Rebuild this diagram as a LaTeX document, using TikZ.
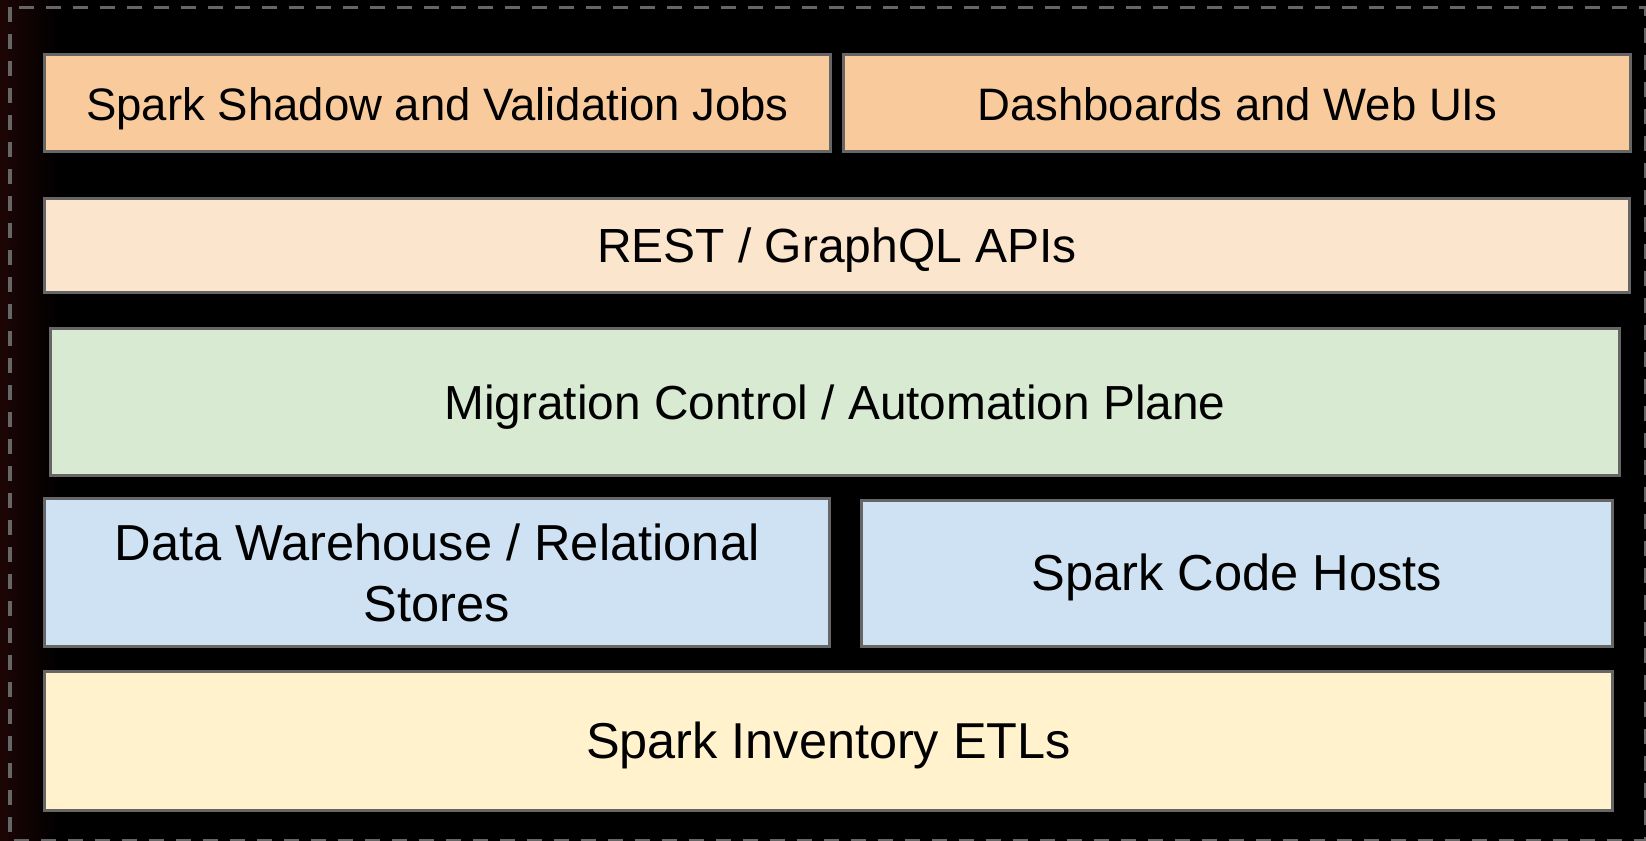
\documentclass[tikz,border=0pt]{standalone}
\usepackage{fontspec}
\setmainfont{Liberation Sans}
\usetikzlibrary{positioning}
\definecolor{frame}{HTML}{666666}
\definecolor{haze}{HTML}{1E0505}
\newcommand{\layerfont}[1]{\fontsize{#1}{34.7}\selectfont}
\begin{document}
\begin{tikzpicture}[x=0.02cm,y=-0.02cm,node distance=2.5cm,auto]
	\tikzstyle{rect} = [rectangle,line width=1.7pt,draw=frame,inner sep=2pt,
	font=\layerfont{27.9},align=center,text=black,text height=19.5pt,text depth=0pt]
	\tikzstyle{rect1} = [rect,fill={rgb,255:red,249;green,203;blue,156},minimum width=15.72cm,minimum height=1.94cm,font=\layerfont{25.9}]
	\tikzstyle{rect2} = [rect,fill={rgb,255:red,252;green,229;blue,205}]
	\tikzstyle{rect3} = [rect,fill={rgb,255:red,217;green,234;blue,211}]
	\tikzstyle{rect4} = [rect,fill={rgb,255:red,207;green,226;blue,243},font=\layerfont{28.8}]
	\tikzstyle{rect5} = [rect,fill={rgb,255:red,255;green,242;blue,204},font=\layerfont{28.7}]
	% black page, reddish on the left edge
	\fill[black] (0,0) rectangle (1646,841);
	\shade[left color=haze,right color=black,shading angle=90] (0,0) rectangle (60,841);
	\useasboundingbox (0,0) rectangle (1646,841);
	\draw[frame,line width=2.2pt,dash pattern=on 0.30cm off 0.24cm]
		(10,7.5) rectangle (1645.5,840.5);
	% layers, top to bottom
	\node (node1) [rect1] at (437.5,103) {Spark Shadow and Validation Jobs};
	\node (node2) [rect1, right of=node1,node distance=16cm,minimum width=15.74cm] {Dashboards and Web UIs};
	\node (node3) [rect2,minimum width=31.70cm,minimum height=1.88cm,font=\layerfont{27.3}] at (837,245.5) {REST / GraphQL APIs};
	\node (node4) [rect3,minimum width=31.38cm,minimum height=2.94cm,font=\layerfont{27.2}] at (835,402) {Migration Control / Automation Plane};
	\node (node5) [rect4,minimum width=15.70cm,minimum height=2.96cm,text height=,text depth=] at (437,572.5) {Data Warehouse / Relational\\Stores};
	\node (node6) [rect4,minimum width=15.02cm,minimum height=2.92cm] at (1237,573.5) {Spark Code Hosts};
	\node (node7) [rect5,minimum width=31.36cm,minimum height=2.78cm] at (828.5,741) {Spark Inventory ETLs};
\end{tikzpicture}
\end{document}
